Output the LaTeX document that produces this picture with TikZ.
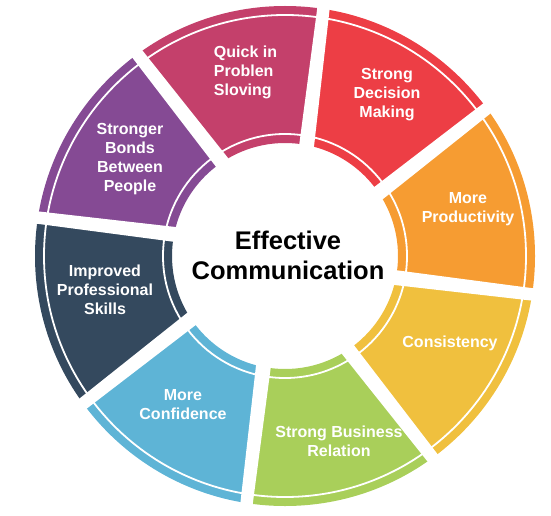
\documentclass[tikz,border=0pt]{standalone}
\usepackage{fontspec}
\setmainfont{Liberation Sans}
\usepackage{tikz}

\definecolor{quickcol}{HTML}{C4406B}
\definecolor{bondscol}{HTML}{854A94}
\definecolor{skillscol}{HTML}{34495E}
\definecolor{confidcol}{HTML}{5EB4D6}
\definecolor{businesscol}{HTML}{A9CF5A}
\definecolor{consistcol}{HTML}{F0C03E}
\definecolor{productcol}{HTML}{F69C32}
\definecolor{decisioncol}{HTML}{ED3E45}

\begin{document}
\begin{tikzpicture}[
            x=1pt,y=1pt,
            ringrim/.style={draw=white,line width=1.8pt},
            ringgap/.style={fill=white},
            seglab/.style={text=white,align=center,font=\bfseries\fontsize{16}{19}\selectfont},
            centrelab/.style={align=center,font=\bfseries\fontsize{25.5}{30}\selectfont}
          ]
          \useasboundingbox (0,0) rectangle (551,515);
          \coordinate (c) at (285,259);

          %ring segments
          \foreach \col [count=\i from 0, evaluate=\i as \a using 83+45*\i] in
            {quickcol,bondscol,skillscol,confidcol,businesscol,consistcol,productcol,decisioncol}{
            \begin{scope}[shift={(c)}]
              \clip (\a-90:8) -- (\a-1.53:300) -- (\a+43.47:300) -- (\a-45:8) -- cycle;
              \fill[\col,even odd rule] (0,0) circle (250) (0,0) circle (113);
              \draw[ringrim] (0,0) circle (241) (0,0) circle (122);
            \end{scope}
          }

          %gaps, a bit wider towards the hole
          \foreach \i in {0,...,7}{
            \begin{scope}[shift={(c)},rotate=83+45*\i]
              \path[ringgap] (95,-15.6) -- (262,-14.1) -- (262,-1.9) -- (95,-0.4) -- cycle;
            \end{scope}
          }

          %labels
          \node[seglab,align=left] (quick) at (245.5,443) {Quick in\\Problen\\Sloving};
          \node[seglab] (decision) at (387,420) {Strong\\Decision\\Making};
          \node[seglab] (product) at (468,306) {More\\Productivity};
          \node[seglab] (consist) at (450,172) {Consistency};
          \node[seglab] (business) at (339,74) {Strong Business\\Relation};
          \node[seglab] (confid) at (183,110) {More\\Confidence};
          \node[seglab] (skills) at (105,225) {Improved\\Professional\\Skills};
          \node[seglab] (bonds) at (130,356) {Stronger\\Bonds\\Between\\People};
          \node[centrelab] (effcomm) at (288,260) {Effective\\Communication};
\end{tikzpicture}
\end{document}
